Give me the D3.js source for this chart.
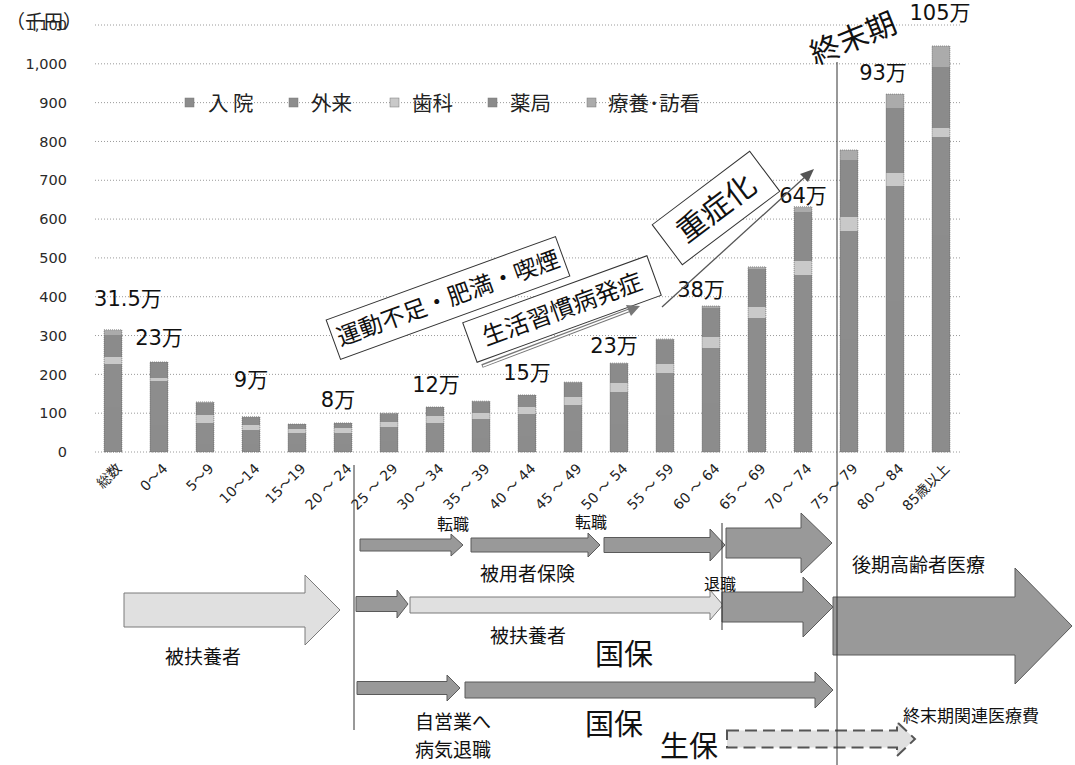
<!DOCTYPE html>
<html><head><meta charset="utf-8">
<script src="https://cdn.jsdelivr.net/npm/d3@7"></script>
<style>body{margin:0;background:#fff}</style>
</head><body>
<svg id="c" width="1075" height="765"></svg>
<script>
// ---- data ----
const categories = ["総数","0～4","5～9","10～14","15～19","20 ～ 24","25 ～ 29","30 ～ 34","35 ～ 39","40 ～ 44","45 ～ 49","50 ～ 54","55 ～ 59","60 ～ 64","65 ～ 69","70 ～ 74","75 ～ 79","80 ～ 84","85歳以上"];
const seriesNames = ["入 院","外来","歯科","薬局","療養･訪看"];
const inpatient  = [115,70,20,20,20,20,28,32,35,42,55,72,95,125,160,210,290,390,560];
const outpatient = [112,113,55,37,30,30,37,43,50,56,66,83,109,143,185,246,280,296,252];
const dental     = [18,8,20,13,10,12,13,18,15,18,21,23,23,28,29,36,36,33,23];
const pharmacy   = [57,40,32,20,11,12,21,22,30,30,37,49,61,76,97,126,146,167,157];
const homecare   = [13,1,2,1,1,1,1,1,1,1,1,2,3,4,6,14,26,36,54];
const yTicks = [0,100,200,300,400,500,600,700,800,900,1000,1100];
const valueLabelCats  = ["総数","0～4","10～14","20 ～ 24","30 ～ 34","40 ～ 44","50 ～ 54","60 ～ 64","70 ～ 74","80 ～ 84","85歳以上"];
const valueLabelTexts = ["31.5万","23万","9万","8万","12万","15万","23万","38万","64万","93万","105万"];

// ---- setup ----
const svg = d3.select("#c");
const JP = "'Noto Sans CJK JP','Noto Sans CJK SC',sans-serif";
const NUM = "'DejaVu Sans','Noto Sans CJK JP',sans-serif";
const colors = ["#8c8c8c","#8d8d8d","#c9c9c9","#8b8b8b","#ababab"];

const x = d3.scaleBand().domain(categories).range([90,964]).paddingInner(0.6).paddingOuter(0.3);
const y = d3.scaleLinear().domain([0,1100]).range([452,25]);

// gridlines
svg.append("g").selectAll("line").data(yTicks).join("line")
  .attr("x1",95).attr("x2",962)
  .attr("y1",d=>y(d)).attr("y2",d=>y(d))
  .attr("stroke","#9a9a9a").attr("stroke-width",1).attr("stroke-dasharray","1,2");

// y axis labels
const yAxis = d3.axisLeft(y).tickValues(yTicks).tickSize(0).tickPadding(0).tickFormat(d3.format(","));
const gy = svg.append("g").attr("transform","translate(67,0)").call(yAxis);
gy.select(".domain").remove();
gy.selectAll("text").attr("font-family",NUM).attr("font-size",14.5).attr("fill","#2a2a2a");

svg.append("text").attr("x",6).attr("y",29).attr("font-family",JP).attr("font-size",19).attr("fill","#222").text("（千円）");

// stacked bars
const rows = categories.map((c,i)=>({cat:c, s0:inpatient[i], s1:outpatient[i], s2:dental[i], s3:pharmacy[i], s4:homecare[i]}));
const stack = d3.stack().keys(["s0","s1","s2","s3","s4"])(rows);
svg.append("g").attr("shape-rendering","crispEdges").selectAll("g").data(stack).join("g").attr("fill",(d,i)=>colors[i])
  .selectAll("rect").data(d=>d).join("rect")
  .attr("x",d=>x(d.data.cat)).attr("width",x.bandwidth())
  .attr("y",d=>y(d[1])).attr("height",d=>y(d[0])-y(d[1]));
// bar outlines
const last = stack[stack.length-1];
svg.append("g").selectAll("rect").data(last).join("rect")
  .attr("x",d=>x(d.data.cat)+0.3).attr("width",x.bandwidth()-0.6)
  .attr("y",d=>y(d[1])).attr("height",d=>y(0)-y(d[1]))
  .attr("fill","none").attr("stroke","#666").attr("stroke-width",0.7).attr("stroke-dasharray","1,1");

// x labels
const xAxis = d3.axisBottom(x).tickSize(0).tickPadding(0);
const gx = svg.append("g").attr("transform","translate(0,462)").call(xAxis);
gx.select(".domain").remove();
gx.selectAll("text").attr("font-family",NUM).attr("font-size",14).attr("fill","#222")
  .attr("text-anchor","end").attr("dy","0.35em")
  .attr("transform","translate(6,4) rotate(-45)");

// value labels
const nudges = [[15,24],[0,17],[0,30],[-5,16],[1,15],[0,15],[-5,10],[-10,9],[0,4],[-12,14],[-1,26]];
svg.append("g").selectAll("text").data(valueLabelCats).join("text")
  .attr("x",(c,i)=>x(c)+x.bandwidth()/2+nudges[i][0])
  .attr("y",(c,i)=>{const k=categories.indexOf(c); return y(last[k][1])-nudges[i][1];})
  .attr("text-anchor","middle").attr("font-family",NUM).attr("font-size",21).attr("fill","#111")
  .text((c,i)=>valueLabelTexts[i]);

// legend
const legendPos = [[185,208],[289,311],[390,412],[488,510],[587,608]];
const lg = svg.append("g");
seriesNames.forEach((n,i)=>{
  lg.append("rect").attr("x",legendPos[i][0]).attr("y",98).attr("width",9).attr("height",9).attr("fill",colors[i]).attr("stroke","#777").attr("stroke-width",0.5);
  lg.append("text").attr("x",legendPos[i][1]).attr("y",111).attr("font-family",JP).attr("font-size",20.5).attr("fill","#222").text(n);
});

// ---- annotations ----
function rotBox(cx,cy,w,h,ang,txt,fs){
  const g = svg.append("g").attr("transform",`translate(${cx},${cy}) rotate(${ang})`);
  g.append("rect").attr("x",-w/2).attr("y",-h/2).attr("width",w).attr("height",h).attr("fill","#fff").attr("stroke","#333").attr("stroke-width",1);
  g.append("text").attr("x",0).attr("y",0).attr("dy","0.36em").attr("text-anchor","middle").attr("font-family",JP).attr("font-size",fs).attr("fill","#111").text(txt);
}
rotBox(448,298,244,42,-20,"運動不足・肥満・喫煙",23.5);
rotBox(562,309,196,42,-20,"生活習慣病発症",24);

// double arrow under 生活習慣病発症
svg.append("line").attr("x1",482).attr("y1",366).attr("x2",630).attr("y2",310).attr("stroke","#777").attr("stroke-width",4);
svg.append("line").attr("x1",483).attr("y1",366).attr("x2",630).attr("y2",310).attr("stroke","#fff").attr("stroke-width",1.6);
svg.append("path").attr("d","M640,306 L626,305 L631,316 Z").attr("fill","#777");

// arrow to 重症化
svg.append("line").attr("x1",662).attr("y1",307).attr("x2",806).attr("y2",176).attr("stroke","#555").attr("stroke-width",1.3);
svg.append("path").attr("d","M814,169 L800,174 L808,182 Z").attr("fill","#555");
rotBox(716,208,122,50,-37,"重症化",30);

// 終末期
svg.append("text").attr("transform","translate(853,38) rotate(-22)").attr("text-anchor","middle").attr("dy","0.36em")
  .attr("font-family",JP).attr("font-size",30).attr("fill","#111").text("終末期");

// block arrows
function blockArrow(x0,x1,cy,bh,hh,hl,fill,stroke,dash){
  const p = `M${x0},${cy-bh} L${x1-hl},${cy-bh} L${x1-hl},${cy-hh} L${x1},${cy} L${x1-hl},${cy+hh} L${x1-hl},${cy+bh} L${x0},${cy+bh} Z`;
  const e = svg.append("path").attr("d",p).attr("fill",fill).attr("stroke",stroke).attr("stroke-width",dash?2:1);
  if(dash) e.attr("stroke-dasharray",dash);
}
const DK="#999", DKS="#5a5a5a", LT="#e0e0e0", LTS="#7a7a7a";
blockArrow(360,463,545,6,11,12,DK,DKS);
blockArrow(471,600,545,7,12,12,DK,DKS);
blockArrow(604,725,545,7.5,16,15,DK,DKS);
blockArrow(726,832,543,15,30,31,DK,DKS);
blockArrow(124,340,610,17,35,35,LT,LTS);
blockArrow(356,408,604,7.5,14,11,DK,DKS);
blockArrow(410,723,605,8,15,13,LT,LTS);
blockArrow(722,833,607,15,30,30,DK,DKS);
blockArrow(833,1072,626,29,58,57,DK,DKS);
blockArrow(357,460,688,6.5,13,13,DK,DKS);
blockArrow(465,833,690,8,18,18,DK,DKS);
blockArrow(727,915,739,8.5,17,18,LT,"#555","12,6");

// vertical lines
const vline=(xx,a,b)=>svg.append("line").attr("x1",xx).attr("x2",xx).attr("y1",a).attr("y2",b).attr("stroke","#333").attr("stroke-width",1);
vline(837,62,765);
vline(354,465,730);
vline(722,523,630);

// texts
function t(xx,yy,s,fs,anchor){svg.append("text").attr("x",xx).attr("y",yy).attr("font-family",JP).attr("font-size",fs).attr("fill","#111").attr("text-anchor",anchor||"start").text(s);}
t(437,530,"転職",16);
t(575,528,"転職",16);
t(480,581,"被用者保険",19);
t(704,590,"退職",16);
t(852,572,"後期高齢者医療",19);
t(165,664,"被扶養者",19);
t(490,643,"被扶養者",19);
t(595,665,"国保",29);
t(585,735,"国保",29);
t(660,757,"生保",29);
t(415,729,"自営業へ",19);
t(415,757,"病気退職",19);
t(903,722,"終末期関連医療費",17);
</script>
</body></html>
